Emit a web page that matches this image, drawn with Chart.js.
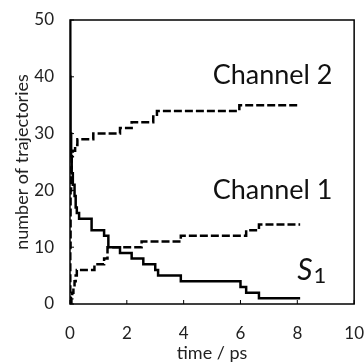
<!DOCTYPE html>
<html>
<head>
<meta charset="utf-8">
<script src="https://cdn.jsdelivr.net/npm/chart.js@4"></script>
<style>
  html, body { margin: 0; padding: 0; background: #fff; }
  #wrap { width: 364px; height: 364px; overflow: hidden; }
</style>
</head>
<body>
<div id="wrap"><canvas id="c" width="375" height="364"></canvas></div>
<script>
// time (ps) where the population changes, and the new count
const s1Times = [0, 0.01, 0.02, 0.04, 0.06, 0.1, 0.16, 0.2, 0.24, 0.32, 0.76, 1.2, 1.35, 1.76, 2.17, 2.58, 3.0, 3.1, 3.9, 6.0, 6.2, 6.65, 8.1];
const s1Counts = [50, 40, 30, 26, 23, 21, 19, 17, 16, 15, 13, 12, 10, 9, 8, 7, 6, 5, 4, 3, 2, 1, 1];

const ch1Times = [0, 0.05, 0.08, 0.12, 0.16, 0.2, 0.24, 0.86, 1.2, 1.32, 2.52, 3.9, 6.2, 6.65, 8.1];
const ch1Counts = [0, 1, 2, 3, 4, 5, 6, 7, 8, 10, 11, 12, 13, 14, 14];

const ch2Times = [0, 0.01, 0.02, 0.04, 0.06, 0.1, 0.18, 0.26, 0.82, 1.76, 2.17, 2.93, 3.06, 5.96, 8.1];
const ch2Counts = [0, 10, 20, 24, 26, 27, 28, 29, 30, 31, 32, 33, 34, 35, 35];

const xTicks = [0, 2, 4, 6, 8, 10];
const yTicks = [0, 10, 20, 30, 40, 50];

const toPoints = (ts, vs) => ts.map((t, i) => ({ x: t, y: vs[i] }));
const FONT = 'Lato, "Open Sans", sans-serif';

// box around the plot + small inward ticks + the text labels
const decor = {
    id: 'decor',
    afterDraw(chart) {
        const ctx = chart.ctx;
        const a = chart.chartArea;
        const xs = chart.scales.x, ys = chart.scales.y;
        ctx.save();
        ctx.strokeStyle = '#000';
        ctx.lineWidth = 1.5;
        ctx.strokeRect(a.left, a.top, a.right - a.left, a.bottom - a.top);
        ctx.lineWidth = 1;
        ctx.beginPath();
        xTicks.forEach(v => {
            const px = xs.getPixelForValue(v);
            ctx.moveTo(px, a.bottom);
            ctx.lineTo(px, a.bottom - 4);
        });
        yTicks.forEach(v => {
            const py = ys.getPixelForValue(v);
            ctx.moveTo(a.left, py);
            ctx.lineTo(a.left + 4, py);
        });
        ctx.stroke();

        ctx.fillStyle = '#111';
        ctx.textBaseline = 'middle';
        ctx.textAlign = 'center';
        ctx.font = '27px ' + FONT;
        ctx.fillText('Channel 2', xs.getPixelForValue(7.13), ys.getPixelForValue(40.3));
        ctx.fillText('Channel 1', xs.getPixelForValue(7.13), ys.getPixelForValue(20.1));
        ctx.textAlign = 'left';
        ctx.font = 'italic 30px ' + FONT;
        const sx = xs.getPixelForValue(8.0), sy = ys.getPixelForValue(5.9);
        ctx.fillText('S', sx, sy);
        const w = ctx.measureText('S').width;
        ctx.font = '22px ' + FONT;
        ctx.fillText('1', sx + w + 1, sy + 5);
        ctx.restore();
    }
};

const lineStyle = { borderColor: '#000', borderWidth: 2.5, pointRadius: 0, stepped: true, fill: false };

new Chart(document.getElementById('c').getContext('2d'), {
    type: 'line',
    data: {
        datasets: [
            { label: 'S1', data: toPoints(s1Times, s1Counts), ...lineStyle },
            { label: 'Channel 1', data: toPoints(ch1Times, ch1Counts), ...lineStyle, borderDash: [8, 3] },
            { label: 'Channel 2', data: toPoints(ch2Times, ch2Counts), ...lineStyle, borderDash: [8, 3] }
        ]
    },
    options: {
        responsive: false,
        animation: false,
        layout: { padding: { top: 20, right: 0, left: 0, bottom: 0 } },
        plugins: { legend: { display: false }, tooltip: { enabled: false } },
        scales: {
            x: {
                type: 'linear', min: 0, max: 10,
                afterBuildTicks: s => { s.ticks = xTicks.map(v => ({ value: v })); },
                afterFit: s => { s.height = 60; },
                grid: { display: false },
                border: { display: false },
                ticks: { color: '#222', font: { family: FONT, size: 17 }, padding: 11, maxRotation: 0 },
                title: { display: true, text: 'time / ps', color: '#222', font: { family: FONT, size: 18 }, padding: { top: 2, bottom: 0 } }
            },
            y: {
                min: 0, max: 50,
                afterBuildTicks: s => { s.ticks = yTicks.map(v => ({ value: v })); },
                afterFit: s => { s.width = 70; },
                grid: { display: false },
                border: { display: false },
                ticks: { color: '#222', font: { family: FONT, size: 17 }, padding: 8 },
                title: { display: true, text: 'number of trajectories', color: '#222', font: { family: FONT, size: 18 }, padding: { top: 11, bottom: 0 } }
            }
        }
    },
    plugins: [decor]
});
</script>
</body>
</html>
